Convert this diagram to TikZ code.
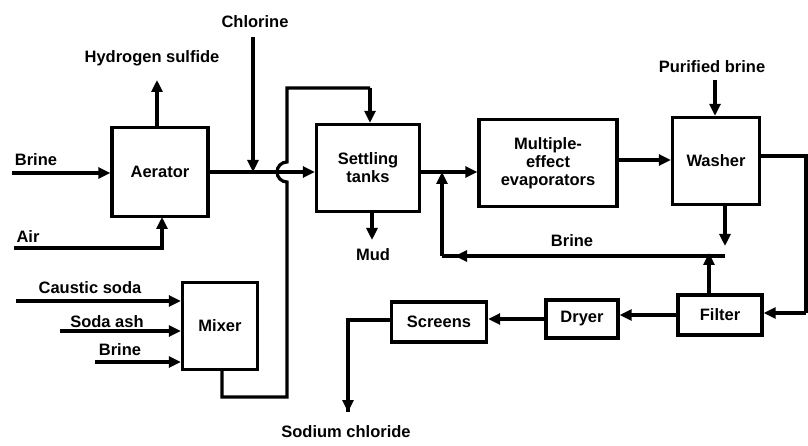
\documentclass[tikz,border=0pt]{standalone}
\usepackage{fontspec}
\setmainfont{Liberation Sans}
\usetikzlibrary{arrows.meta}
\begin{document}
\begin{tikzpicture}[x=1pt,y=-1pt,
  box/.style={draw,line width=3.4pt,minimum width=#1,inner sep=0pt,align=center,font=\bfseries\fontsize{16.5}{18}\selectfont},
  lbl/.style={font=\bfseries\fontsize{16.5}{18}\selectfont,inner sep=1pt},
  ln/.style={line width=3.2pt},
  flow/.style={ln,-{Triangle[length=12pt,width=11pt]}},
  tip/.style={-{Triangle[length=12pt,width=11pt]},line width=3.2pt}]
\useasboundingbox (0,0) rectangle (808,446);
% boxes
\node[box=96pt,minimum height=89pt] (aer) at (160,172) {Aerator};
\node[box=103pt,minimum height=87pt] (set) at (368,168) {Settling\\tanks};
\node[box=138pt,minimum height=87pt] (mul) at (548,163) {Multiple-\\effect\\evaporators};
\node[box=87pt,minimum height=87pt] (was) at (716,161) {Washer};
\node[box=75pt,minimum height=87pt] (mix) at (220,326) {Mixer};
\node[box=84pt,minimum height=40pt] (fil) at (720,315) {Filter};
\node[box=72pt,minimum height=38pt] (dry) at (582,319) {Dryer};
\node[box=95pt,minimum height=40pt] (scr) at (439,322) {Screens};
% labels
\node[lbl] (lbrine1) at (36,160) {Brine};
\node[lbl] (lair) at (28,237) {Air};
\node[lbl] (lh2s) at (152,58) {Hydrogen sulfide};
\node[lbl] (lcl) at (255,22) {Chlorine};
\node[lbl] (lmud) at (373,255) {Mud};
\node[lbl] (lbrine2) at (572,241) {Brine};
\node[lbl] (lpur) at (712,67) {Purified brine};
\node[lbl] (lcaus) at (90,288) {Caustic soda};
\node[lbl] (lsoda) at (107,322) {Soda ash};
\node[lbl] (lbrine3) at (120,350) {Brine};
\node[lbl] (lnacl) at (346,432) {Sodium chloride};
% coordinates
\coordinate (brinein) at (12,173);
\coordinate (airin) at (14,248);
\coordinate (h2sout) at (157,80);
\coordinate (clin) at (253,37);
\coordinate (cljn) at (253,172);
\coordinate (mudout) at (372,240);
\coordinate (causin) at (16,301);
\coordinate (sodain) at (60,331);
\coordinate (brin3) at (95,362);
\coordinate (retjn) at (442,172);
\coordinate (brl) at (442,256);
\coordinate (brr) at (725,256);
\coordinate (purin) at (715,80);
\coordinate (redge) at (806,156);
\coordinate (nacl) at (348,412);
% aerator
\draw[flow] (brinein) -- (aer.west |- brinein);
\draw[flow] (airin) -- (162,248) -- (162,217);
\draw[flow] (aer.north -| h2sout) -- (h2sout);
\draw[flow] (clin) -- (cljn);
\draw[flow] (aer.east |- cljn) -- (set.west |- cljn);
% mixer feed with hop
\draw[ln] (222,370) -- (222,397) -- (287,397) -- (287,182) arc[start angle=270,end angle=90,radius=10pt] -- (287,88) -- (370,88);
\draw[flow] (370,88) -- (set.north -| 370,0);
% mixer inputs
\draw[flow] (causin) -- (mix.west |- causin);
\draw[flow] (sodain) -- (mix.west |- sodain);
\draw[flow] (brin3) -- (mix.west |- brin3);
% settling
\draw[flow] (set.south -| mudout) -- (mudout);
\draw[flow] (set.east |- retjn) -- (mul.west |- retjn);
\draw[flow] (mul.east |- 0,160) -- (was.west |- 0,160);
\draw[flow] (purin) -- (was.north -| purin);
% washer outputs
\draw[ln] (was.east |- redge) -- (redge) -- (806,313);
\draw[flow] (806,313) -- (fil.east |- 0,313);
\draw[flow] (was.south -| brr) -- (725,246);
\draw[ln] (brr) -- (brl);
\draw[flow] (brl) -- (retjn);
\draw[tip] (475,256) -- (455,256);
\draw[flow] (fil.north -| 709,0) -- (709,253);
% bottom chain
\draw[flow] (fil.west |- 0,315) -- (dry.east |- 0,315);
\draw[flow] (dry.west |- 0,319) -- (scr.east |- 0,319);
\draw[ln] (scr.west |- 0,320) -- (348,320) -- (nacl);
\draw[flow] (348,390) -- (nacl);
\end{tikzpicture}
\end{document}
